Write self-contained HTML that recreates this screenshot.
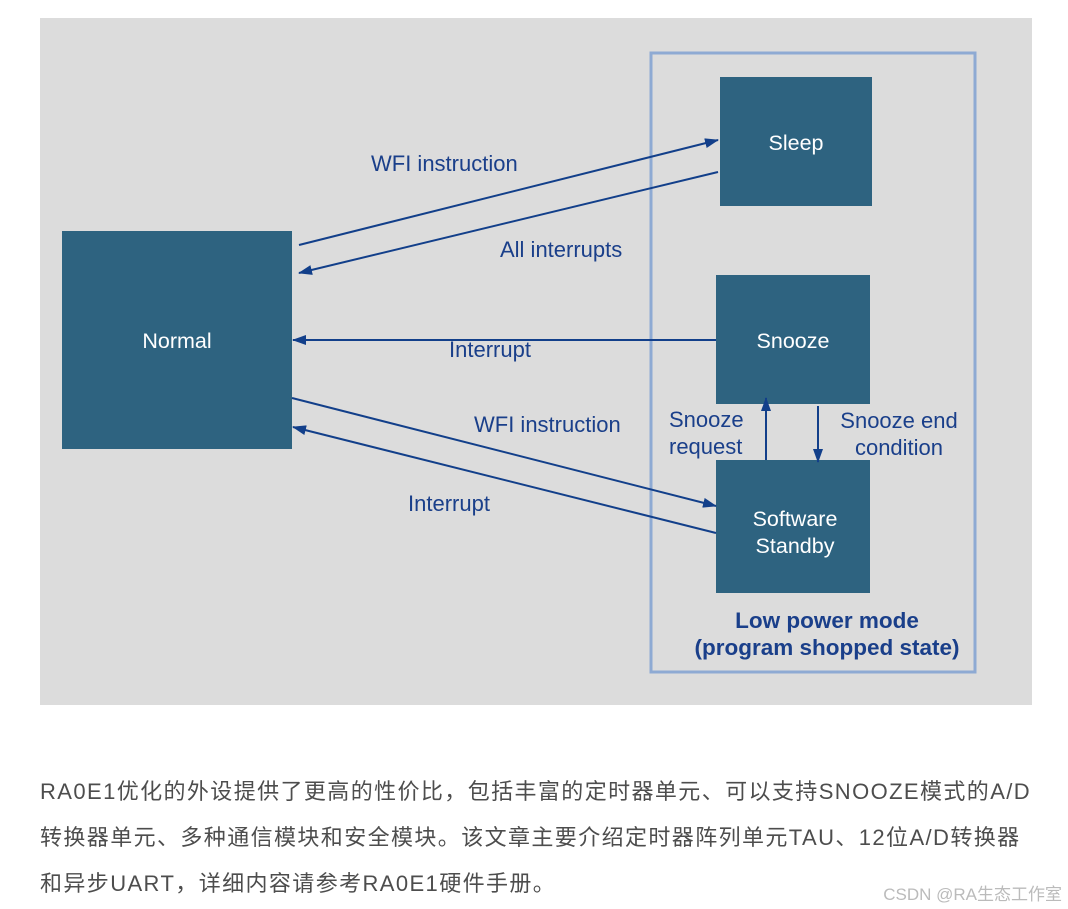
<!DOCTYPE html>
<html><head><meta charset="utf-8"><style>
body{margin:0;width:1068px;height:909px;background:#fff;overflow:hidden;position:relative;font-family:"Liberation Sans","Noto Sans CJK SC",sans-serif}
svg{position:absolute;left:0;top:0}
.p{position:absolute;left:40px;font-size:22px;color:#4d4d4d;white-space:nowrap;letter-spacing:1.4px}
.w{position:absolute;right:6px;top:880px;font-size:17px;color:#bbb}
</style></head><body>
<svg width="1068" height="909" xmlns="http://www.w3.org/2000/svg">
<defs>
<marker id="b" markerWidth="14" markerHeight="10" refX="13" refY="5" orient="auto" markerUnits="userSpaceOnUse"><path d="M0,0 L14,5 L0,10 Z" fill="#123f8a"/></marker></defs>
<rect x="40" y="18" width="992" height="687" fill="#dcdcdc"/>
<rect x="651" y="53" width="324" height="619" fill="none" stroke="#8eaad3" stroke-width="3"/>
<g fill="#2e6380">
<rect x="62" y="231" width="230" height="218"/>
<rect x="720" y="77" width="152" height="129"/>
<rect x="716" y="275" width="154" height="129"/>
<rect x="716" y="460" width="154" height="133"/>
</g>
<g stroke="#123f8a" stroke-width="2" fill="none" marker-end="url(#b)">
<line x1="299" y1="245" x2="718" y2="140"/>
<line x1="718" y1="172" x2="299" y2="273"/>
<line x1="716" y1="340" x2="293" y2="340"/>
<line x1="292" y1="398" x2="716" y2="506"/>
<line x1="716" y1="533" x2="293" y2="427"/>
<line x1="766" y1="460" x2="766" y2="398"/>
<line x1="818" y1="406" x2="818" y2="462"/>
</g>
<g font-family="Liberation Sans, sans-serif" font-size="21.5" fill="#fff" text-anchor="middle">
<text x="177" y="348">Normal</text>
<text x="796" y="150">Sleep</text>
<text x="793" y="348">Snooze</text>
<text x="795" y="526">Software</text>
<text x="795" y="553">Standby</text>
</g>
<g font-family="Liberation Sans, sans-serif" font-size="22" fill="#1a3f8a">
<text x="371" y="171">WFI instruction</text>
<text x="500" y="257">All interrupts</text>
<text x="449" y="357">Interrupt</text>
<text x="474" y="432">WFI instruction</text>
<text x="408" y="511">Interrupt</text>
<text x="669" y="427">Snooze</text>
<text x="669" y="454">request</text>
<text x="899" y="428" text-anchor="middle">Snooze end</text>
<text x="899" y="455" text-anchor="middle">condition</text>
</g>
<g font-family="Liberation Sans, sans-serif" font-size="22.5" font-weight="bold" fill="#1a3f8a" text-anchor="middle">
<text x="827" y="628">Low power mode</text>
<text x="827" y="655">(program shopped state)</text>
</g>
</svg>
<div class="p" style="top:774px">RA0E1优化的外设提供了更高的性价比，包括丰富的定时器单元、可以支持SNOOZE模式的A/D</div>
<div class="p" style="top:820px">转换器单元、多种通信模块和安全模块。该文章主要介绍定时器阵列单元TAU、12位A/D转换器</div>
<div class="p" style="top:866px">和异步UART，详细内容请参考RA0E1硬件手册。</div>
<div class="w">CSDN @RA生态工作室</div>
</body></html>
